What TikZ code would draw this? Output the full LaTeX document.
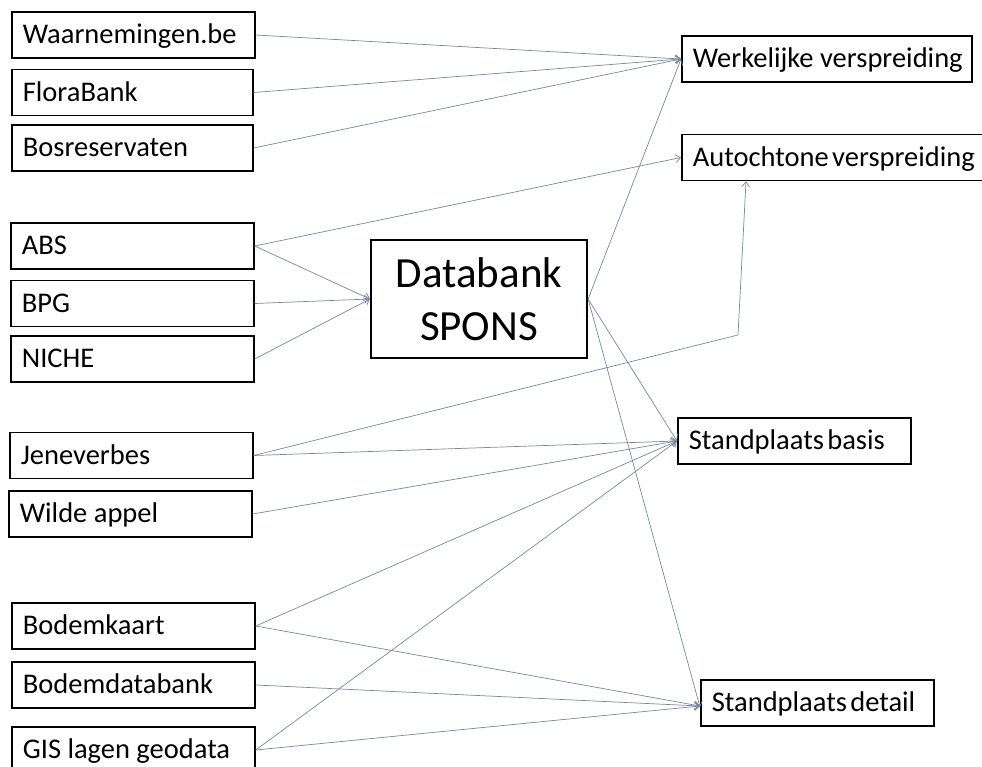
\documentclass[tikz,border=0pt]{standalone}
\usepackage{fontspec}
\setmainfont{Carlito}
\usetikzlibrary{arrows.meta}
\definecolor{conncol}{RGB}{120,135,160}
\newcommand{\boxtxt}[2]{\makebox[#1][l]{#2}}
\tikzset{
  lbox/.style={draw, line width=1.7pt, font=\fontsize{28.5}{28.5}\selectfont,
    inner xsep=11pt, inner ysep=0pt, text height=17.8pt, text depth=0pt,
    minimum height=46pt, anchor=west},
  mainbox/.style={draw, line width=2.2pt, font=\fontsize{43}{53}\selectfont, align=center,
    minimum width=216pt, minimum height=118pt, inner sep=0pt},
  conn/.style={draw=conncol, line width=0.7pt, -{Straight Barb[length=5pt,width=8pt]}}
}
\begin{document}
\begin{tikzpicture}[x=1pt,y=-1pt]
\useasboundingbox (0,0) rectangle (982,767);
% left boxes
\node[lbox] (wa) at (11,35) {\boxtxt{221pt}{Waarnemingen.be}};
\node[lbox] (fb) at (11,92.5) {\boxtxt{219pt}{FloraBank}};
\node[lbox] (br) at (11,148) {\boxtxt{219pt}{Bosreservaten}};
\node[lbox] (abs) at (10,246) {\boxtxt{221pt}{ABS}};
\node[lbox] (bpg) at (10,303.5) {\boxtxt{221pt}{BPG}};
\node[lbox] (ni) at (10,359) {\boxtxt{221pt}{NICHE}};
\node[lbox] (jb) at (9,455.5) {\boxtxt{221pt}{Jeneverbes}};
\node[lbox] (wap) at (8,514) {\boxtxt{221pt}{Wilde appel}};
\node[lbox] (bk) at (11,626) {\boxtxt{221pt}{Bodemkaart}};
\node[lbox] (bd) at (11,685) {\boxtxt{221pt}{Bodemdatabank}};
\node[lbox] (gis) at (11,750) {\boxtxt{221pt}{GIS lagen geodata}};
% main box
\node[mainbox] (db) at (479,299) {Databank\\SPONS};
% right boxes
\node[lbox] (wv) at (681,59) {\boxtxt{268pt}{Werkelijke verspreiding}};
\node[lbox] (av) at (681,157.5) {\boxtxt{285pt}{Autochtone\hspace{0.12em}verspreiding}};
\node[lbox] (sb) at (677,441) {\boxtxt{211pt}{Standplaats\hspace{0.12em}basis}};
\node[lbox] (sd) at (700,703) {\boxtxt{211pt}{Standplaats\hspace{0.12em}detail}};
% connectors
\draw[conn] (wa.east) -- (wv.west);
\draw[conn] (fb.east) -- (wv.west);
\draw[conn] (br.east) -- (wv.west);
\draw[conn] (db.east) -- (wv.west);
\draw[conn] (abs.east) -- (av.west);
\draw[conn] (abs.east) -- (db.west);
\draw[conn] (bpg.east) -- (db.west);
\draw[conn] (ni.east) -- (db.west);
\coordinate (elb) at (738,335);
\draw[conn] (jb.east) -- (elb) -- ([xshift=65pt]av.south west);
\draw[conn] (jb.east) -- (sb.west);
\draw[conn] (wap.east) -- (sb.west);
\draw[conn] (db.east) -- (sb.west);
\draw[conn] (db.east) -- ([yshift=-4pt]sd.west);
\draw[conn] (bk.east) -- (sb.west);
\draw[conn] (bk.east) -- ([yshift=-3pt]sd.west);
\draw[conn] (bd.east) -- ([yshift=-3pt]sd.west);
\draw[conn] (gis.east) -- (sb.west);
\draw[conn] (gis.east) -- ([yshift=-3pt]sd.west);
\end{tikzpicture}
\end{document}
